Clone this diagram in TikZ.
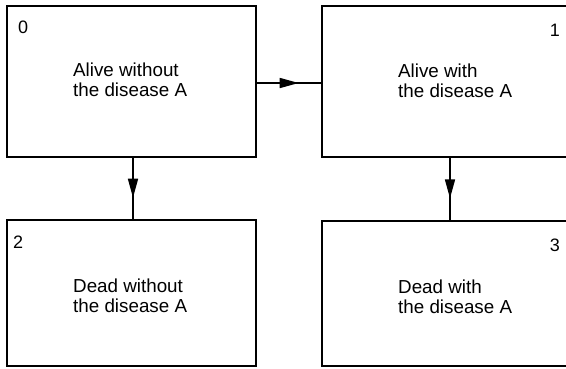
\documentclass[tikz,border=0pt]{standalone}
\usepackage{fontspec}
\setmainfont{Liberation Sans}
\usetikzlibrary{arrows.meta,decorations.markings}
\tikzset{
  statebox/.style={draw, line width=1.6pt, inner sep=0pt, minimum width=#1},
  lbl/.style={inner sep=0pt, font=\fontsize{18.8}{20}\selectfont, align=left},
  num/.style={inner sep=0pt, font=\fontsize{18}{20}\selectfont},
  flow/.style={line width=1.6pt, postaction={decorate}, decoration={markings,
    mark=at position 0.65 with {\arrow{Triangle[length=19pt,width=10pt]}}}}
}
\begin{document}
\begin{tikzpicture}[x=1pt,y=-1pt]
\useasboundingbox (0,0) rectangle (566,368);
\node[statebox=249pt, minimum height=151pt] (b0) at (131.5,81.5) {};
\node[statebox=256pt, minimum height=151pt] (b1) at (450,81.5) {};
\node[statebox=249pt, minimum height=146pt] (b2) at (131.5,293) {};
\node[statebox=256pt, minimum height=145pt] (b3) at (450,293.5) {};
\node[num, anchor=base west] (n0) at (18,33) {0};
\node[num, anchor=base east] (n1) at (560,36) {1};
\node[num, anchor=base west] (n2) at (13,248) {2};
\node[num, anchor=base east] (n3) at (560,251) {3};
\node[lbl, anchor=base west] (t0) at (73,96) {Alive without\\the disease A};
\node[lbl, anchor=base west] (t1) at (398,97) {Alive with\\the disease A};
\node[lbl, anchor=base west] (t2) at (73,312) {Dead without\\the disease A};
\node[lbl, anchor=base west] (t3) at (398,313) {Dead with\\the disease A};
\draw[flow] (b0.east |- 0,83) -- (b1.west |- 0,83);
\draw[flow] (b0.south -| 133,0) -- (b2.north -| 133,0);
\draw[flow] (b1.south) -- (b3.north);
\end{tikzpicture}
\end{document}
